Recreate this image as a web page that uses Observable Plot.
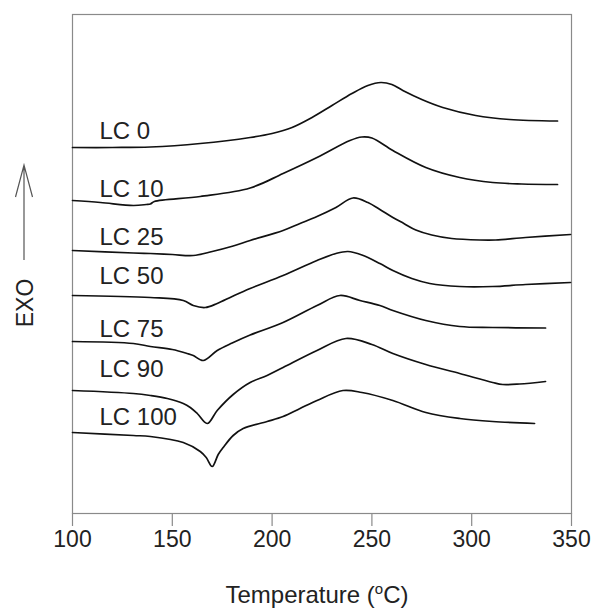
<!DOCTYPE html>
<html><head><meta charset="utf-8">
<script src="https://cdn.jsdelivr.net/npm/d3@7"></script>
<script src="https://cdn.jsdelivr.net/npm/@observablehq/plot@0.6"></script>
<style>body{margin:0;background:#fff}</style>
</head><body><div id="chart"></div>
<script>
// DSC traces: [temperature °C, heat flow (arbitrary units, exo up)]
const seriesNames = ["LC 0", "LC 10", "LC 25", "LC 50", "LC 75", "LC 90", "LC 100"];

const lc0 = [[100,366],[120,366],[139,366.5],[164,370],[189,376],[200,380],[210,386],[220,396],[230,408],[240,420],[248,428],[254.5,431],[260,429],[265.5,423],[275,414],[285.5,406],[302,398],[319,394],[343,392.5]];
const lc10 = [[100,313],[114,311],[130.5,308],[137,309],[139,309.5],[141,312],[164,317],[189,325.5],[205.5,340],[222.5,356],[239,373],[245,376.5],[250,375.5],[260.5,363],[277,346],[294,336],[310.5,331],[325,329.5],[343,329]];
const lc25 = [[100,263],[130.5,260.5],[139,260],[150,259],[160.5,258],[170,262],[180.5,267.5],[189,273],[205.5,283],[214,290],[222.5,297],[232,306],[240.5,315.5],[248,311],[254,304],[260.5,296],[266,290],[272,283.5],[280,278.5],[290,275],[304,273.5],[312,273.5],[327,276],[349.5,279]];
const lc50 = [[100,218],[139,216],[155.5,213],[160.5,208],[166.5,206],[172.5,210],[180,217],[189,225],[205.5,238],[222.5,253],[232,260],[238,262],[245,258.5],[254,250],[260.5,243],[270,235],[279,230],[294,227],[310.5,227],[327,229],[349.5,231]];
const lc75 = [[100,172],[130.5,170],[139,167],[150,164],[157.5,160],[160.5,158],[165.5,153],[172.5,163],[180,170.5],[189,178.5],[205.5,191],[222.5,208],[234,218],[244,213],[254,208],[260.5,203],[277,193],[294,187],[310.5,186],[337,185.5]];
const lc90 = [[100,123],[130.5,120],[139,118],[147.5,115],[155.5,110],[159,106],[162.5,100],[167.5,90],[172.5,103],[180.5,119],[189,131],[197.5,138],[205.5,146],[222.5,163],[237,175],[250,169],[260.5,160],[277,149],[294,140],[310.5,131],[315.5,129],[324,129.5],[337,132]];
const lc100 = [[100,81],[130.5,78],[139,77],[155.5,71],[164,62],[167,56],[170,47],[173,59],[175.5,66],[180.5,78],[185.5,85],[197.5,92],[205.5,97],[214,105],[222.5,113],[235.5,123],[245,121],[260.5,113],[277,101],[294,95],[310.5,92],[331.5,90]];

// label heights (same units as the traces)
const labelValues = [382, 324.5, 276.5, 237, 184.5, 144.5, 96.5];
const labelTemp = 113.5;

const xTicks = [100, 150, 200, 250, 300, 350];

const curves = [lc0, lc10, lc25, lc50, lc75, lc90, lc100];
const rows = seriesNames.flatMap((s, i) => curves[i].map(([t, v]) => ({series: s, t, v})));
const labels = seriesNames.map((s, i) => ({series: s, t: labelTemp, v: labelValues[i]}));

const FONT = "'Liberation Sans', Arial, Helvetica, sans-serif";

const chart = Plot.plot({
  width: 593,
  height: 610,
  marginLeft: 72,
  marginRight: 22,
  marginTop: 14,
  marginBottom: 97,
  style: {fontFamily: FONT, fontSize: "23px", background: "#fff", color: "#222"},
  x: {domain: [100, 350], label: null},
  y: {domain: [0, 499], axis: null},
  marks: [
    Plot.frame({stroke: "#8a8a8a", strokeWidth: 1.2}),
    Plot.axisX({ticks: xTicks, tickSize: 13, tickPadding: 4, stroke: "#8a8a8a", strokeWidth: 1.2, fill: "#222", fontSize: 23, label: null, tickFormat: d => String(d)}),
    Plot.line(rows, {x: "t", y: "v", z: "series", curve: "catmull-rom", stroke: "#111", strokeWidth: 1.7}),
    Plot.text(labels, {x: "t", y: "v", text: "series", textAnchor: "start", lineAnchor: "middle", fontSize: 24, fill: "#222"})
  ]
});

document.getElementById("chart").appendChild(chart);

const svg = d3.select(chart);
// x-axis title with superscript
const xt = svg.append("text")
  .attr("x", 317).attr("y", 603)
  .attr("text-anchor", "middle")
  .attr("font-family", FONT).attr("font-size", 24).attr("fill", "#222");
xt.append("tspan").text("Temperature (");
xt.append("tspan").attr("dy", -9).attr("font-size", 15).text("o");
xt.append("tspan").attr("dy", 9).text("C)");

// y-axis label with arrow
svg.append("text")
  .attr("transform", "translate(33,303) rotate(-90)")
  .attr("text-anchor", "middle")
  .attr("font-family", FONT).attr("font-size", 23).attr("fill", "#222")
  .text("EXO");
svg.append("path")
  .attr("d", "M24,260V165M15.5,197L24,165L32.5,197")
  .attr("fill", "none").attr("stroke", "#555").attr("stroke-width", 1.2);
</script>
</body></html>
